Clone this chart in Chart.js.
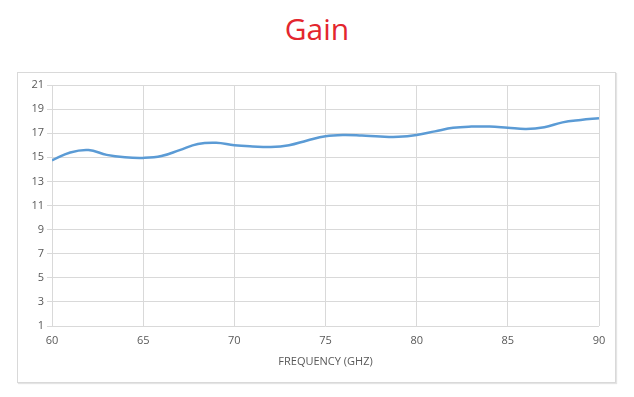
<!DOCTYPE html>
<html>
<head>
<meta charset="utf-8">
<script src="https://cdn.jsdelivr.net/npm/chart.js@4"></script>
<style>
  body { margin: 0; background: #fff; width: 634px; height: 397px; position: relative; overflow: hidden; }
  #title { position: absolute; left: 0; width: 634px; top: 8px; text-align: center;
           font-family: "Open Sans", sans-serif; font-size: 30px; color: #e3262e; }
  #box { position: absolute; left: 17px; top: 72px; width: 597px; height: 309px;
         border: 1px solid #d9d9d9; box-shadow: 1px 1px 1px #e4e4e4; }
  #box canvas { position: absolute; left: 0; top: 0; }
</style>
</head>
<body>
<div id="title">Gain</div>
<div id="box"><canvas id="chart" width="597" height="309"></canvas></div>
<script>
// Frequency (GHz) and gain (dB)
const frequency = [60, 61, 62, 63, 64, 65, 66, 67, 68, 69, 70, 71, 72, 73, 74, 75,
                   76, 77, 78, 79, 80, 81, 82, 83, 84, 85, 86, 87, 88, 89, 90];
const gain = [14.75, 15.4, 15.6, 15.2, 15.0, 14.95, 15.1, 15.6, 16.1, 16.2, 16.0, 15.9, 15.85, 16.0, 16.4, 16.75,
              16.85, 16.8, 16.72, 16.7, 16.85, 17.15, 17.45, 17.55, 17.55, 17.45, 17.35, 17.5, 17.9, 18.1, 18.25];
const xTicks = [60, 65, 70, 75, 80, 85, 90];
const yTicks = [1, 3, 5, 7, 9, 11, 13, 15, 17, 19, 21];
const xTitle = 'FREQUENCY (GHZ)';

const tickFont = { family: '"Open Sans", sans-serif', size: 11 };

new Chart(document.getElementById('chart'), {
    type: 'line',
    data: {
        datasets: [{
            label: 'Gain',
            data: frequency.map((f, i) => ({ x: f, y: gain[i] })),
            borderColor: '#5b9bd5',
            borderWidth: 2.5,
            pointRadius: 0,
            tension: 0.4,
            fill: false
        }]
    },
    options: {
        responsive: false,
        animation: false,
        layout: { padding: { top: 12, right: 16, left: 0, bottom: 0 } },
        plugins: { legend: { display: false }, tooltip: { enabled: false } },
        scales: {
            x: {
                type: 'linear',
                min: 60, max: 90,
                afterBuildTicks: axis => { axis.ticks = xTicks.map(v => ({ value: v })); },
                afterFit: axis => { axis.height = 56; },
                grid: { color: '#d9d9d9', drawTicks: false },
                border: { display: false },
                ticks: { color: '#595959', font: tickFont, padding: 8 },
                title: { display: true, text: xTitle, color: '#595959', font: tickFont, padding: { top: 4, bottom: 14 } }
            },
            y: {
                min: 1, max: 21,
                afterBuildTicks: axis => { axis.ticks = yTicks.map(v => ({ value: v })); },
                afterFit: axis => { axis.width = 34; },
                grid: { color: '#d9d9d9', tickLength: 5 },
                border: { display: false },
                ticks: { color: '#595959', font: tickFont, padding: 3 }
            }
        }
    }
});
</script>
</body>
</html>
